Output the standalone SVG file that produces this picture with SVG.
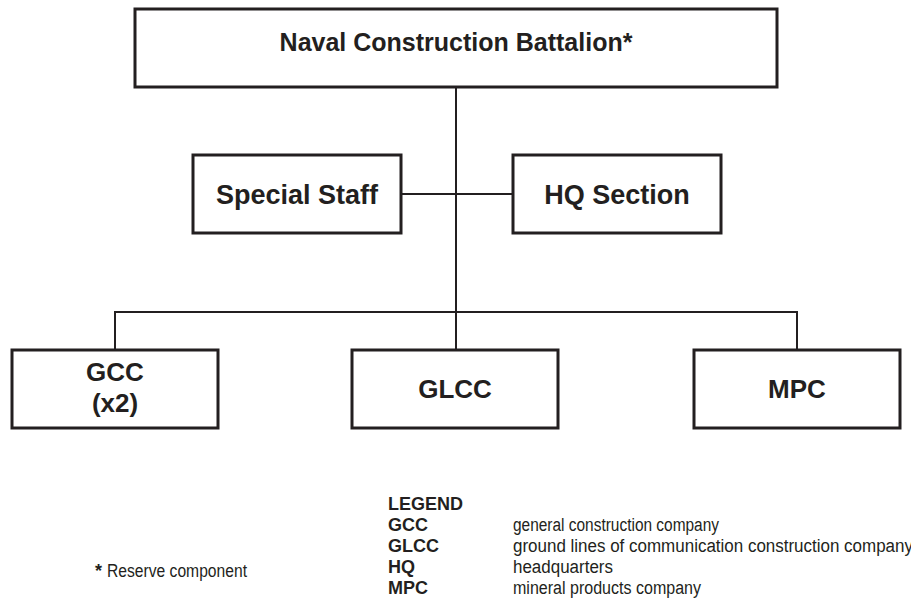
<svg xmlns="http://www.w3.org/2000/svg" width="911" height="613" viewBox="0 0 911 613">
<style>
.box{fill:#fff;stroke:#231f20;stroke-width:3}
.con{fill:none;stroke:#231f20;stroke-width:2}
.t{font-family:"Liberation Sans",Arial,sans-serif;font-weight:bold;fill:#231f20;text-anchor:middle}
.lb{font-family:"Liberation Sans",Arial,sans-serif;font-weight:bold;fill:#231f20;font-size:18px}
.ln{font-family:"Liberation Sans",Arial,sans-serif;fill:#231f20;font-size:18px}
</style>
<rect width="911" height="613" fill="#fff"/>
<g id="connectors">
<path class="con" d="M456 87V350M401 194H513M115 350V312H797V350"/>
</g>
<g id="ncb">
<rect class="box" x="135" y="9" width="642" height="78"/>
<text class="t" x="456" y="51" font-size="25">Naval Construction Battalion*</text>
</g>
<g id="special-staff">
<rect class="box" x="193" y="155" width="208" height="78"/>
<text class="t" x="297" y="204" font-size="27">Special Staff</text>
</g>
<g id="hq-section">
<rect class="box" x="513" y="155" width="208" height="78"/>
<text class="t" x="617" y="204" font-size="27">HQ Section</text>
</g>
<g id="gcc">
<rect class="box" x="12" y="350" width="206" height="78"/>
<text class="t" x="115" y="381" font-size="26">GCC</text>
<text class="t" x="115" y="412" font-size="26">(x2)</text>
</g>
<g id="glcc">
<rect class="box" x="352" y="350" width="206" height="78"/>
<text class="t" x="455" y="398" font-size="26">GLCC</text>
</g>
<g id="mpc">
<rect class="box" x="694" y="350" width="206" height="78"/>
<text class="t" x="797" y="398" font-size="26">MPC</text>
</g>
<g id="legend">
<text class="lb" x="388" y="510">LEGEND</text>
<text class="lb" x="388" y="531">GCC</text>
<text class="lb" x="388" y="552">GLCC</text>
<text class="lb" x="388" y="573">HQ</text>
<text class="lb" x="388" y="594">MPC</text>
<text class="ln" x="513" y="531" textLength="206" lengthAdjust="spacingAndGlyphs">general construction company</text>
<text class="ln" x="513" y="552" textLength="400" lengthAdjust="spacingAndGlyphs">ground lines of communication construction company</text>
<text class="ln" x="513" y="573" textLength="100" lengthAdjust="spacingAndGlyphs">headquarters</text>
<text class="ln" x="513" y="594" textLength="188" lengthAdjust="spacingAndGlyphs">mineral products company</text>
</g>
<g id="note">
<text class="lb" x="95" y="577">*</text>
<text class="ln" x="107" y="577" textLength="140" lengthAdjust="spacingAndGlyphs">Reserve component</text>
</g>
</svg>
